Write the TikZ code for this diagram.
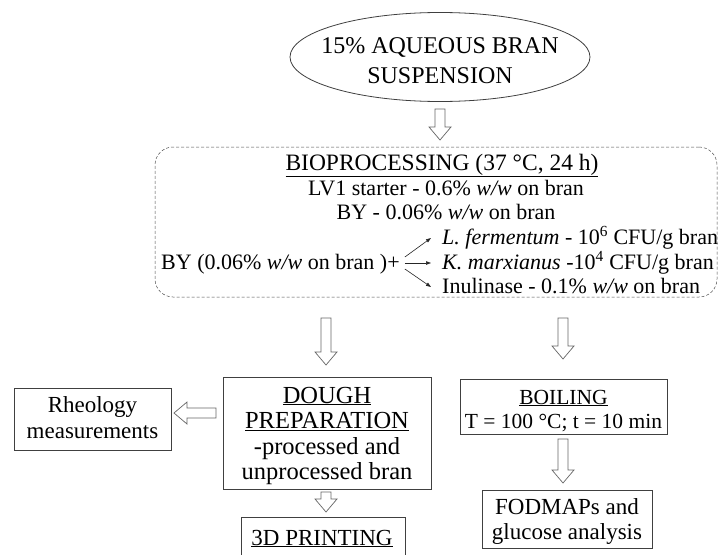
\documentclass[tikz,border=0pt]{standalone}
\usepackage{fontspec}
\setmainfont{Liberation Serif}
\usetikzlibrary{calc,shapes.geometric,arrows.meta}
\newcommand\fsz{\fontsize{22}{25}\selectfont}
\newcommand\fsT{\fontsize{23.5}{25}\selectfont}
\newcommand\fsE{\fontsize{24}{30}\selectfont}
\newcommand\fsD{\fontsize{24.5}{26}\selectfont}
\newcommand\fsM{\fontsize{23}{26}\selectfont}
\newcommand\fsB{\fontsize{21.5}{25}\selectfont}
% hollow block arrow pointing down: #1 tail coordinate, #2 tip coordinate
\newcommand\hdown[2]{\draw[harrow] ($(#1)+(-5,0)$) -- ($(#2)+(-5,-13)$) -- ($(#2)+(-11,-13)$) -- (#2) -- ($(#2)+(11,-13)$) -- ($(#2)+(5,-13)$) -- ($(#1)+(5,0)$) -- cycle;}
% hollow block arrow pointing left: #1 tail coordinate, #2 tip coordinate
\newcommand\hleft[2]{\draw[harrow] ($(#1)+(0,-5)$) -- ($(#2)+(13,-5)$) -- ($(#2)+(13,-11)$) -- (#2) -- ($(#2)+(13,11)$) -- ($(#2)+(13,5)$) -- ($(#1)+(0,5)$) -- cycle;}
\begin{document}
\begin{tikzpicture}[x=1pt,y=-1pt,font=\fsz,
  box/.style={draw=black!75,line width=0.8pt,inner sep=0pt},
  txt/.style={inner sep=0pt,anchor=base},
  harrow/.style={draw=black!60,line width=0.7pt,fill=white,line join=miter},
  sarrow/.style={-{Triangle[length=5pt,width=3.5pt]},line width=0.6pt,draw=black!85},
  dashbox/.style={draw=black!70,densely dashed,line width=0.5pt,rounded corners=18pt}]
\useasboundingbox (0,0) rectangle (719,554);
\clip (0,0) rectangle (719,554);
\fill[white] (0,0) rectangle (719,554);

% top ellipse
\node[draw=black!75,line width=0.8pt,ellipse,minimum width=300,minimum height=89,inner sep=0pt] (susp) at (440,57) {};
\node[txt,font=\fsE] (susp1) at (440,53) {15\% AQUEOUS BRAN};
\node[txt,font=\fsE] (susp2) at (440,83) {SUSPENSION};

\coordinate (a1s) at (440,109);
\coordinate (a1e) at (440,140);
\hdown{a1s}{a1e}

% bioprocessing block
\node[dashbox,minimum width=562,minimum height=150] (bio) at (436,222) {};
\node[txt,font=\fsT] (biot) at (442,170) {\underline{BIOPROCESSING (37 °C, 24 h)}};
\node[txt] (lv1) at (446,195) {LV1 starter - 0.6\% \textit{w/w} on bran};
\node[txt] (by) at (446,219) {BY - 0.06\% \textit{w/w} on bran};
\node[txt,anchor=base west] (lf) at (442,244) {\textit{L. fermentum} - 10\textsuperscript{6} CFU/g bran};
\node[txt,anchor=base west] (km) at (442,269) {\textit{K. marxianus} -10\textsuperscript{4} CFU/g bran};
\node[txt,anchor=base west] (inu) at (442,293) {Inulinase - 0.1\% \textit{w/w} on bran};
\node[txt,anchor=base west] (byp) at (161,269) {BY (0.06\% \textit{w/w} on bran )+};
\draw[sarrow] ($(byp.base east)+(5,-12)$) -- ($(lf.base west)+(-11,-6)$);
\draw[sarrow] ($(byp.base east)+(5,-6)$) -- ($(km.base west)+(-11,-6)$);
\draw[sarrow] ($(byp.base east)+(5,0)$) -- ($(inu.base west)+(-11,-6)$);

% dough preparation
\node[box,minimum width=208,minimum height=112] (dough) at (327,433) {};
\node[txt,font=\fsD] (d1) at (327,403) {\underline{DOUGH}};
\node[txt,font=\fsD] (d2) at (327,428.5) {\underline{PREPARATION}};
\node[txt,font=\fsD] (d3) at (327,454) {-processed and};
\node[txt,font=\fsD] (d4) at (327,479.5) {unprocessed bran};

% rheology
\node[box,minimum width=157,minimum height=62] (rheo) at (92.5,419) {};
\node[txt,font=\fsM] (r1) at (92.5,412.5) {Rheology};
\node[txt,font=\fsM] (r2) at (92.5,438.5) {measurements};

% boiling
\node[box,minimum width=207,minimum height=55] (boil) at (563.5,406.5) {};
\node[txt,font=\fsB] (b1) at (563.5,404) {\underline{BOILING}};
\node[txt,font=\fsB] (b2) at (563.5,428) {T = 100 °C; t = 10 min};

% FODMAPs
\node[box,minimum width=170,minimum height=58] (fod) at (567,519) {};
\node[txt,font=\fsM] (f1) at (567,514) {FODMAPs and};
\node[txt,font=\fsM] (f2) at (567,539.5) {glucose analysis};

% 3D printing
\node[box,minimum width=164,minimum height=60,anchor=north] (print) at (323,517) {};
\node[txt,font=\fsM] (p1) at (322,545) {\underline{3D PRINTING}};

% block arrows
\coordinate (a2s) at (326,318);
\coordinate (a2e) at (326,365);
\hdown{a2s}{a2e}
\coordinate (a3s) at (563,318);
\coordinate (a3e) at (563,359);
\hdown{a3s}{a3e}
\coordinate (a4s) at (563,439);
\coordinate (a4e) at (563,483);
\hdown{a4s}{a4e}
\coordinate (a5s) at (326,492);
\coordinate (a5e) at (326,512);
\hdown{a5s}{a5e}
\coordinate (a6s) at (216,413);
\coordinate (a6e) at (174,413);
\hleft{a6s}{a6e}
\end{tikzpicture}
\end{document}
